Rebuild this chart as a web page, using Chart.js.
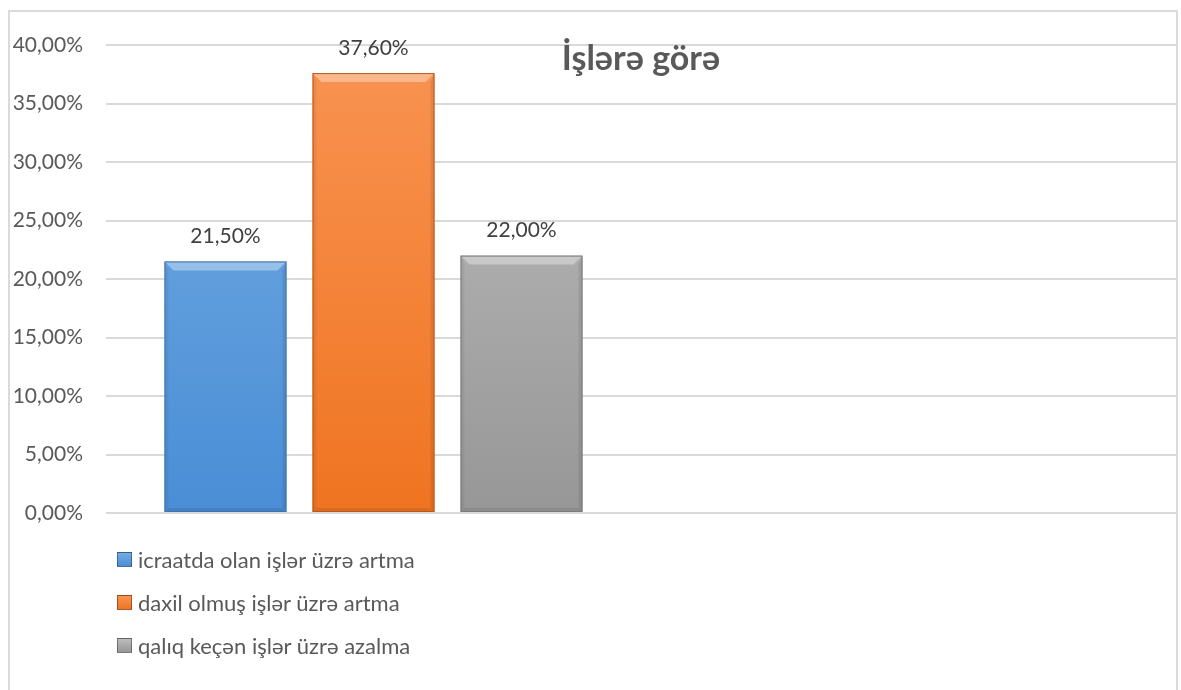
<!DOCTYPE html>
<html>
<head>
<meta charset="utf-8">
<script src="https://cdn.jsdelivr.net/npm/chart.js@4/dist/chart.umd.min.js"></script>
<style>
    html, body { margin: 0; padding: 0; background: #fff; }
    #wrap { position: relative; width: 1181px; height: 690px; overflow: hidden; font-family: Lato, "Open Sans", sans-serif; }
    #frame { position: absolute; left: 8px; top: 10px; width: 1166px; height: 700px;
             border-left: 2px solid #dadada; border-top: 2px solid #dadada; border-right: 2px solid #dadada; }
    #costChart { position: absolute; left: 0; top: 0; }
    #title { position: absolute; left: 491px; top: 36px; width: 300px; text-align: center;
             font-weight: bold; font-size: 34px; color: #595959; }
    #legend { position: absolute; left: 117px; top: 538px; }
    .item { height: 43px; display: flex; align-items: center; }
    .item .box { width: 13px; height: 13px; margin-right: 6px; border: 1px solid rgba(0,0,0,0.35); }
    .item span { font-size: 22px; color: #595959; }
</style>
</head>
<body>
<div id="wrap">
    <div id="frame"></div>
    <canvas id="costChart" width="1181" height="690"></canvas>
    <div id="title"></div>
    <div id="legend"></div>
</div>
<script>
// data
const chartTitle = 'İşlərə görə';
const categories = ['', ''];
const seriesLabels = ['icraatda olan işlər üzrə artma', 'daxil olmuş işlər üzrə artma', 'qalıq keçən işlər üzrə azalma'];
const icraatValues = [21.5];
const daxilValues = [37.6];
const qaliqValues = [22.0];
const yTicks = [0, 5, 10, 15, 20, 25, 30, 35, 40];

// top / bottom gradient colours per series
const topColors = ['#74ace3', '#f99453', '#bdbdbd'];
const bottomColors = ['#4a8ed6', '#ef7421', '#979797'];
const edgeColors = ['#3c74ad', '#b9581a', '#7a7a7a'];

function fmtPct(v) {
    return v.toFixed(2).replace('.', ',') + '%';
}

function barGradient(i) {
    return (c) => {
        const area = c.chart.chartArea;
        if (!area) return topColors[i];
        const el = c.element;
        const top = el && el.y !== undefined ? el.y : area.top;
        const bottom = el && el.base !== undefined ? el.base : area.bottom;
        if (!isFinite(top) || !isFinite(bottom) || top === bottom) return topColors[i];
        const g = c.chart.ctx.createLinearGradient(0, top, 0, bottom);
        g.addColorStop(0, topColors[i]);
        g.addColorStop(1, bottomColors[i]);
        return g;
    };
}

// bevel-ish highlight on bars, drawn at the positions chart.js computed
const bevelPlugin = {
    id: 'bevel',
    afterDatasetsDraw(chart) {
        const ctx = chart.ctx;
        chart.data.datasets.forEach((ds, i) => {
            chart.getDatasetMeta(i).data.forEach(bar => {
                const l = bar.x - bar.width / 2, r = bar.x + bar.width / 2;
                const t = bar.y, b = bar.base, d = 9;
                ctx.save();
                ctx.fillStyle = 'rgba(255,255,255,0.35)';
                ctx.beginPath();
                ctx.moveTo(l, t); ctx.lineTo(r, t); ctx.lineTo(r - d, t + d); ctx.lineTo(l + d, t + d);
                ctx.closePath(); ctx.fill();
                ctx.fillStyle = 'rgba(0,0,0,0.08)';
                ctx.beginPath();
                ctx.moveTo(r, t); ctx.lineTo(r, b); ctx.lineTo(r - 4, b - 4); ctx.lineTo(r - 4, t + d);
                ctx.closePath(); ctx.fill();
                ctx.fillStyle = 'rgba(0,0,0,0.05)';
                ctx.beginPath();
                ctx.moveTo(l, t); ctx.lineTo(l, b); ctx.lineTo(l + 4, b - 4); ctx.lineTo(l + 4, t + d);
                ctx.closePath(); ctx.fill();
                ctx.fillStyle = 'rgba(0,0,0,0.08)';
                ctx.beginPath();
                ctx.moveTo(l, b); ctx.lineTo(r, b); ctx.lineTo(r - 4, b - 4); ctx.lineTo(l + 4, b - 4);
                ctx.closePath(); ctx.fill();
                ctx.strokeStyle = edgeColors[i];
                ctx.lineWidth = 1;
                ctx.strokeRect(l + 0.5, t + 0.5, bar.width - 1, b - t - 1);
                ctx.restore();
            });
        });
    }
};

const valueLabels = {
    id: 'valueLabels',
    afterDatasetsDraw(chart) {
        const ctx = chart.ctx;
        ctx.save();
        ctx.font = '21px Lato, "Open Sans", sans-serif';
        ctx.fillStyle = '#404040';
        ctx.textAlign = 'center';
        ctx.textBaseline = 'middle';
        chart.data.datasets.forEach((ds, i) => {
            chart.getDatasetMeta(i).data.forEach((bar, j) => {
                ctx.fillText(fmtPct(ds.data[j]), bar.x, bar.y - 25);
            });
        });
        ctx.restore();
    }
};

const seriesValues = [icraatValues, daxilValues, qaliqValues];

const ctx = document.getElementById('costChart').getContext('2d');
const myChart = new Chart(ctx, {
    type: 'bar',
    data: {
        labels: categories,
        datasets: seriesValues.map((vals, i) => ({
            label: seriesLabels[i],
            data: vals,
            backgroundColor: barGradient(i),
            borderWidth: 0,
            categoryPercentage: 0.83,
            barPercentage: 0.824
        }))
    },
    options: {
        responsive: false,
        animation: false,
        layout: { padding: { left: 0, right: 5, top: 45, bottom: 177 } },
        plugins: {
            legend: { display: false },
            tooltip: { enabled: false }
        },
        scales: {
            x: { display: false },
            y: {
                min: 0,
                max: 40,
                afterFit(scale) { scale.width = 106; },
                afterBuildTicks(scale) { scale.ticks = yTicks.map(v => ({ value: v })); },
                border: { display: false },
                grid: { color: '#d9d9d9', lineWidth: 2, drawTicks: false },
                ticks: {
                    padding: 23,
                    color: '#595959',
                    font: { family: 'Lato, "Open Sans", sans-serif', size: 21 },
                    callback: v => fmtPct(v)
                }
            }
        }
    },
    plugins: [bevelPlugin, valueLabels]
});

document.getElementById('title').textContent = chartTitle;
const legendEl = document.getElementById('legend');
seriesLabels.forEach((label, i) => {
    const row = document.createElement('div');
    row.className = 'item';
    const box = document.createElement('div');
    box.className = 'box';
    box.style.background = `linear-gradient(${topColors[i]}, ${bottomColors[i]})`;
    const txt = document.createElement('span');
    txt.textContent = label;
    row.appendChild(box);
    row.appendChild(txt);
    legendEl.appendChild(row);
});
</script>
</body>
</html>
